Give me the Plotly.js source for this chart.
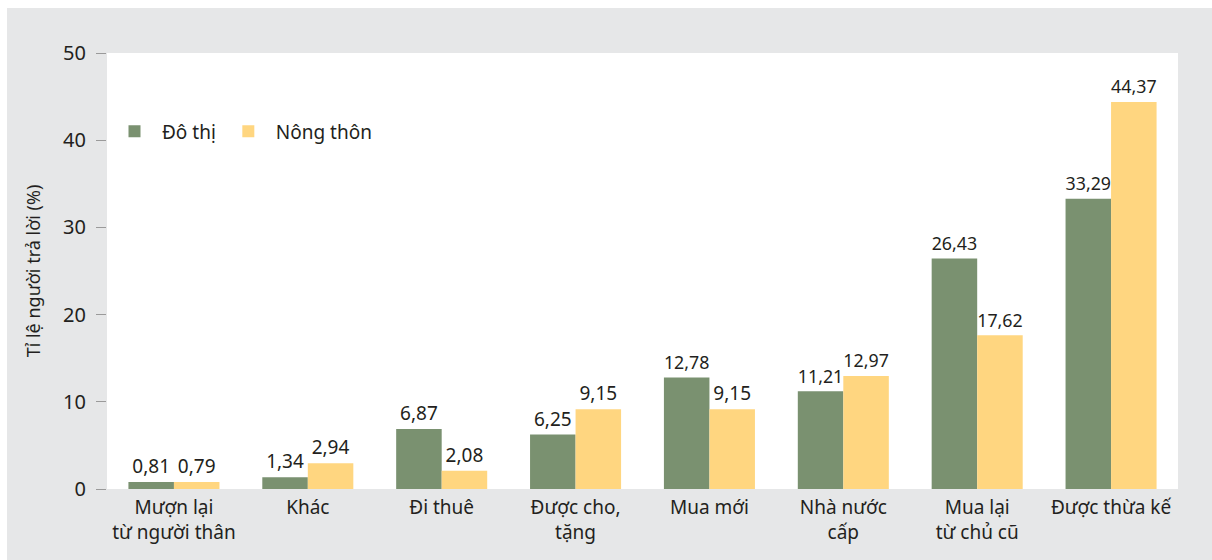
<!DOCTYPE html>
<html>
<head>
<meta charset="utf-8">
<script src="https://cdn.plot.ly/plotly-3.0.1.min.js"></script>
<style>
html,body{margin:0;padding:0;background:#ffffff;}
#chart{position:absolute;left:7px;top:8px;width:1205px;height:552px;}
</style>
</head>
<body>
<div id="chart"></div>
<script>
const categories = ["Mượn lại<br>từ người thân", "Khác", "Đi thuê", "Được cho,<br>tặng", "Mua mới", "Nhà nước<br>cấp", "Mua lại<br>từ chủ cũ", "Được thừa kế"];
const doThi = [0.81, 1.34, 6.87, 6.25, 12.78, 11.21, 26.43, 33.29];
const nongThon = [0.79, 2.94, 2.08, 9.15, 9.15, 12.97, 17.62, 44.37];
const yTicks = [0, 10, 20, 30, 40, 50];

const fmt = v => v.toFixed(2).replace('.', ',');
const FONT = "Noto Sans, sans-serif";
const TXT = '#231f20';

const traces = [
  {type:'bar', name:'Đô thị', x:categories, y:doThi, text:doThi.map(fmt),
   textposition:'outside', cliponaxis:false, marker:{color:'#7a9170'},
   textfont:{family:FONT,size:19,color:TXT}, hoverinfo:'skip'},
  {type:'bar', name:'Nông thôn', x:categories, y:nongThon, text:nongThon.map(fmt),
   textposition:'outside', cliponaxis:false, marker:{color:'#ffd680'},
   textfont:{family:FONT,size:19,color:TXT}, hoverinfo:'skip'}
];

const layout = {
  width:1205, height:552,
  margin:{l:100, r:34, t:45, b:71},
  paper_bgcolor:'#e6e7e8', plot_bgcolor:'#ffffff',
  barmode:'group', bargap:0.32, bargroupgap:0,
  font:{family:FONT, size:19, color:TXT},
  showlegend:true,
  legend:{orientation:'h', x:0.0, y:0.82, xanchor:'left', yanchor:'middle',
          bgcolor:'rgba(0,0,0,0)', font:{family:FONT,size:19,color:TXT},
          itemwidth:45, traceorder:'normal'},
  xaxis:{tickfont:{family:FONT,size:19,color:TXT}, showgrid:false, zeroline:false,
         showline:false, ticks:'', fixedrange:true, automargin:false, ticklabelstandoff:5},
  yaxis:{range:[0,50], tickvals:yTicks, ticktext:yTicks.map(String), showgrid:false, zeroline:false,
         showline:false, ticks:'outside', ticklen:10, tickwidth:1, tickcolor:'#9a9a9a',
         ticklabelstandoff:6,
         tickfont:{family:FONT,size:20,color:TXT}, automargin:false,
         title:{text:'Tỉ lệ người trả lời (%)', font:{family:FONT,size:18,color:TXT}, standoff:17}}
};

Plotly.newPlot('chart', traces, layout, {displayModeBar:false, staticPlot:true});
</script>
</body>
</html>
